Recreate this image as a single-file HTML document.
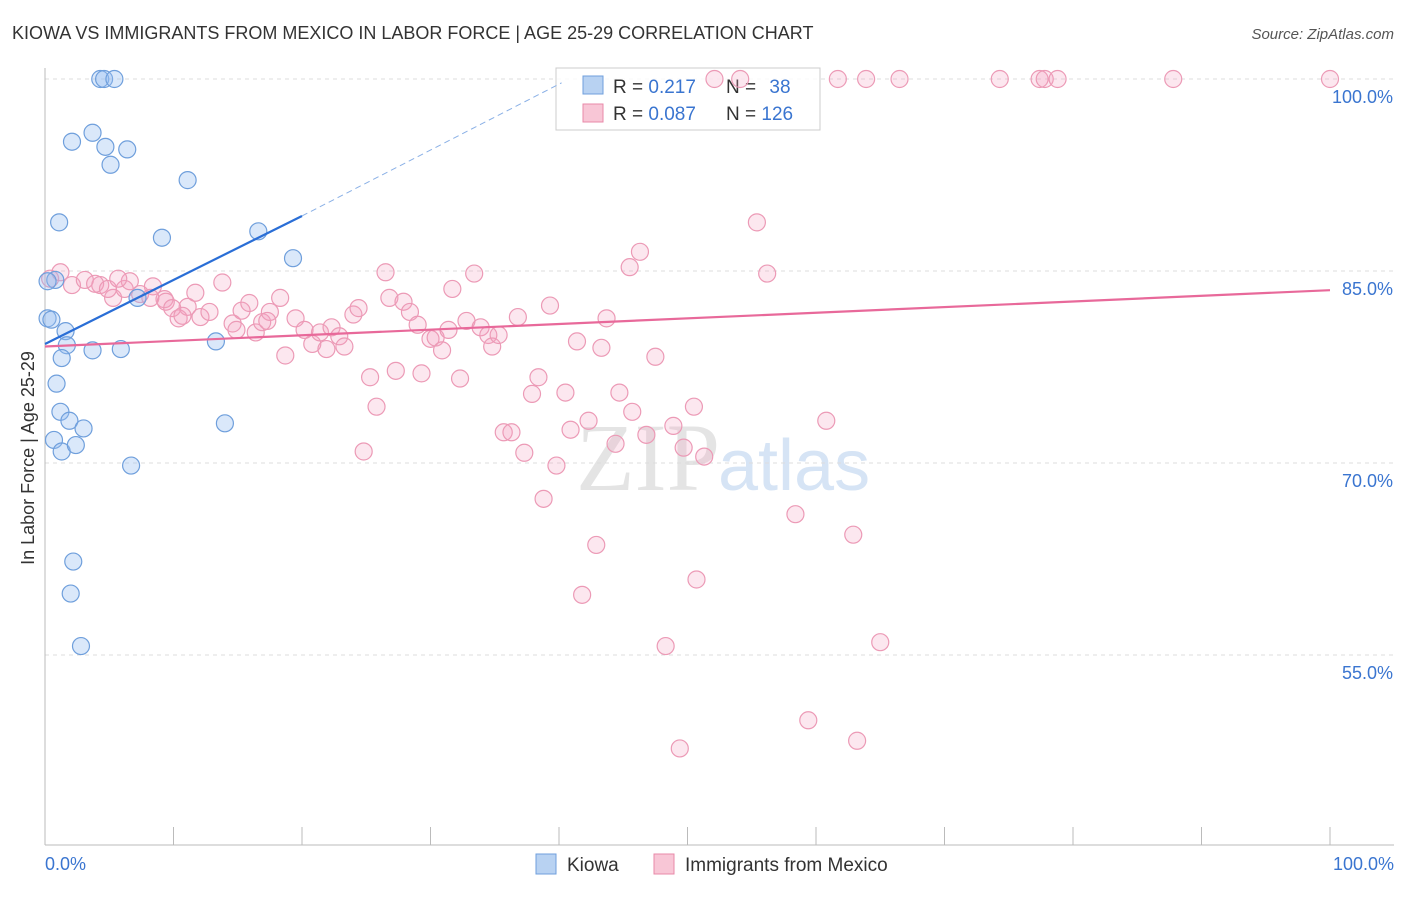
<!DOCTYPE html>
<html><head><meta charset="utf-8"><style>
body{margin:0;background:#fff;font-family:"Liberation Sans",sans-serif;}
</style></head><body>
<svg width="1406" height="892" id="chart" font-family="Liberation Sans, sans-serif">
<text x="12" y="39" font-size="18" fill="#333">KIOWA VS IMMIGRANTS FROM MEXICO IN LABOR FORCE | AGE 25-29 CORRELATION CHART</text>
<text x="1394" y="39" font-size="15" fill="#555" text-anchor="end" font-style="italic">Source: ZipAtlas.com</text>
<text x="720" y="490" font-size="96" fill="#e4e4e4" text-anchor="end" font-family="Liberation Serif, serif">ZIP</text>
<text x="718" y="490" font-size="72" fill="#d6e4f5">atlas</text>
<g id="grid"></g>
<g id="axes"></g>
<g>
<rect x="556" y="68" width="264" height="62" fill="rgba(255,255,255,0.85)" stroke="#ccc"/>
<rect x="583" y="76" width="20" height="18" fill="#b8d2f2" stroke="#6f9fdc"/>
<rect x="583" y="104" width="20" height="18" fill="#f8c6d6" stroke="#e889a8"/>
<text x="613" y="93" font-size="19" fill="#333">R = <tspan fill="#3a75d0">0.217</tspan></text>
<text x="726" y="93" font-size="19" fill="#333">N = <tspan fill="#3a75d0" dx="8">38</tspan></text>
<text x="613" y="120" font-size="19" fill="#333">R = <tspan fill="#3a75d0">0.087</tspan></text>
<text x="726" y="120" font-size="19" fill="#333">N = <tspan fill="#3a75d0">126</tspan></text>
</g>
<g id="marks"></g>
<text transform="translate(34,458) rotate(-90)" font-size="18" fill="#333" text-anchor="middle">In Labor Force | Age 25-29</text>
<g>
<rect x="536" y="854" width="20" height="20" fill="#b8d2f2" stroke="#6f9fdc"/>
<text x="567" y="871" font-size="19" fill="#333">Kiowa</text>
<rect x="654" y="854" width="20" height="20" fill="#f8c6d6" stroke="#e889a8"/>
<text x="685" y="871" font-size="19" fill="#333">Immigrants from Mexico</text>
</g>
</svg>
<script>
const xTickLabels=["0.0%","100.0%"];
const yTicks=[100,85,70,55];
const blueX=[4.3,4.6,5.4,3.7,2.1,4.7,6.4,5.1,11.1,1.1,9.1,16.6,19.3,0.8,0.2,0.5,1.6,1.7,1.3,3.7,5.9,13.3,0.9,1.2,1.9,3.0,0.7,1.3,2.4,14.0,6.7,2.2,2.0,2.8,7.2,0.2];
const blueY=[100,100,100,95.8,95.1,94.7,94.5,93.3,92.1,88.8,87.6,88.1,86.0,84.3,81.3,81.2,80.3,79.2,78.2,78.8,78.9,79.5,76.2,74.0,73.3,72.7,71.8,70.9,71.4,73.1,69.8,62.3,59.8,55.7,82.9,84.2];
const pinkX=[52.1,54.1,61.7,63.9,66.5,74.3,77.4,77.8,78.8,87.8,100,55.4,46.3,45.5,56.2,33.4,26.5,31.7,39.3,36.8,43.7,41.4,43.3,47.5,25.3,27.3,29.3,32.3,38.4,40.5,37.9,44.7,25.8,45.7,50.5,60.8,35.7,36.3,40.9,42.3,46.8,48.9,44.4,49.7,51.3,24.8,37.3,39.8,38.8,58.4,62.9,42.9,50.7,41.8,48.3,65.0,59.4,49.4,63.2,
0.4,1.2,2.1,3.1,4.3,5.3,6.2,7.4,8.4,9.3,10.4,11.1,11.7,12.1,12.8,13.8,14.6,15.3,15.9,16.4,16.9,17.5,18.3,18.7,19.5,20.2,20.8,21.4,21.9,22.3,22.9,23.3,24.0,24.4,26.8,27.9,28.4,29.0,30.0,30.4,30.9,31.4,32.8,33.9,34.5,34.8,35.3,6.6,8.2,3.9,4.9,5.7,9.4,9.9,10.7,14.9,17.3];
const pinkY=[100,100,100,100,100,100,100,100,100,100,100,88.8,86.5,85.3,84.8,84.8,84.9,83.6,82.3,81.4,81.3,79.5,79.0,78.3,76.7,77.2,77.0,76.6,76.7,75.5,75.4,75.5,74.4,74.0,74.4,73.3,72.4,72.4,72.6,73.3,72.2,72.9,71.5,71.2,70.5,70.9,70.8,69.8,67.2,66.0,64.4,63.6,60.9,59.7,55.7,56.0,49.9,47.7,48.3,
84.4,84.9,83.9,84.3,83.9,82.9,83.6,83.2,83.8,82.8,81.3,82.2,83.3,81.4,81.8,84.1,80.9,81.9,82.5,80.2,81.0,81.8,82.9,78.4,81.3,80.4,79.3,80.2,78.9,80.6,79.9,79.1,81.6,82.1,82.9,82.6,81.8,80.8,79.7,79.8,78.8,80.4,81.1,80.6,80.0,79.1,80.0,84.2,82.9,84.0,83.6,84.4,82.6,82.1,81.5,80.4,81.1];
const blueLine=[[0,79.3],[20,89.3]];
const blueDash=[[20,89.3],[40.2,99.7]];
const pinkLine=[[0,79.1],[100,83.5]];
const NS='http://www.w3.org/2000/svg';
const X=v=>45+v*12.85, Y=v=>79+(100-v)*12.8;
const grid=document.getElementById('grid'),axes=document.getElementById('axes'),marks=document.getElementById('marks');
function mk(tag,at,parent){const e=document.createElementNS(NS,tag);for(const k in at)e.setAttribute(k,at[k]);parent.appendChild(e);return e;}
yTicks.forEach(t=>{
 const l=mk('line',{x1:45,x2:1394,y1:Y(t),y2:Y(t),stroke:'#ddd','stroke-dasharray':'4,4'},grid);
 
 
 const tx=mk('text',{x:1393,y:Y(t)+24,'font-size':18,fill:'#3a75d0','text-anchor':'end'},axes);
 tx.textContent=t.toFixed(1)+'%';
 
 
});
const ax=mk('line',{x1:45,x2:1394,y1:845,y2:845,stroke:'#bbb'},axes);


const ay=mk('line',{x1:45,x2:45,y1:68,y2:845,stroke:'#bbb'},axes);


for(let i=0;i<=10;i++){const t=mk('line',{x1:X(i*10),x2:X(i*10),y1:827,y2:845,stroke:'#bbb'},axes);
 
 }
[[0,'start',45],[100,'end',1394]].forEach((d,i)=>{const t=mk('text',{x:d[2],y:870,'font-size':18,fill:'#3a75d0','text-anchor':d[1]},axes);t.textContent=xTickLabels[i];
 
 });
pinkX.forEach((x,i)=>{const c=mk('circle',{cx:X(x),cy:Y(pinkY[i]),r:8.5,fill:'rgba(244,160,190,0.25)',stroke:'#ec9ab6','stroke-width':1.2},marks);
 
 });
blueX.forEach((x,i)=>{const c=mk('circle',{cx:X(x),cy:Y(blueY[i]),r:8.5,fill:'rgba(150,190,240,0.35)',stroke:'#6f9fdc','stroke-width':1.2},marks);
 
 });
const bl=mk('line',{x1:X(blueLine[0][0]),y1:Y(blueLine[0][1]),x2:X(blueLine[1][0]),y2:Y(blueLine[1][1]),stroke:'#2a6ed6','stroke-width':2.2},marks);


const bd=mk('line',{x1:X(blueDash[0][0]),y1:Y(blueDash[0][1]),x2:X(blueDash[1][0]),y2:Y(blueDash[1][1]),stroke:'#8ab0e6','stroke-width':1,'stroke-dasharray':'6,4'},marks);


const pl=mk('line',{x1:X(pinkLine[0][0]),y1:Y(pinkLine[0][1]),x2:X(pinkLine[1][0]),y2:Y(pinkLine[1][1]),stroke:'#e8699a','stroke-width':2.2},marks);


</script>
</body></html>
